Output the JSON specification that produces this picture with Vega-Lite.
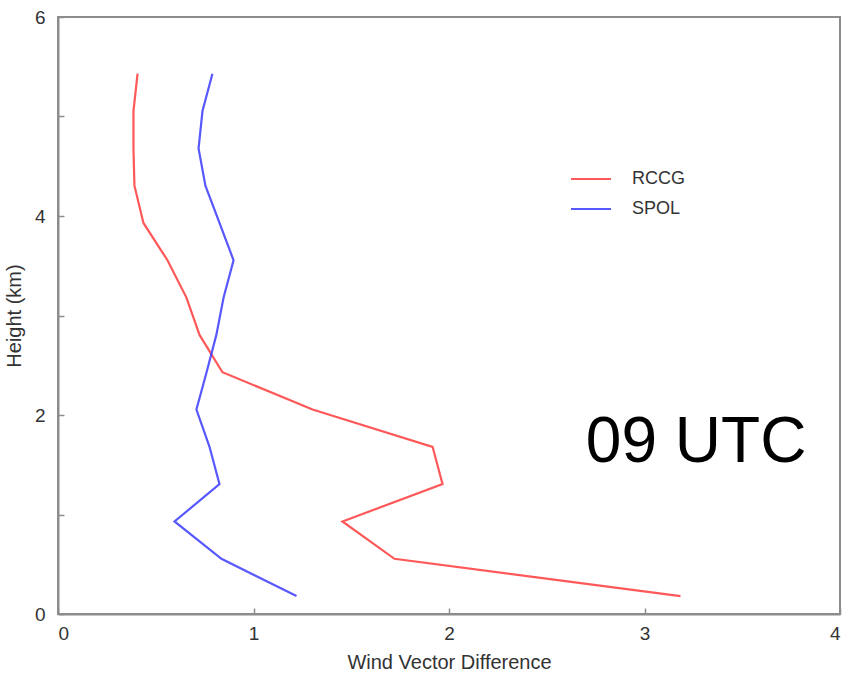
{
  "$schema": "https://vega.github.io/schema/vega-lite/v6.json",
  "width": 782,
  "height": 597,
  "autosize": {"type": "none"},
  "padding": {"left": 58, "top": 17, "right": 8, "bottom": 63},
  "background": "white",
  "config": {
    "font": "Liberation Sans",
    "view": {"stroke": "#8c8c8c", "strokeWidth": 2},
    "axis": {
      "grid": false,
      "domainColor": "#8c8c8c",
      "domainWidth": 2,
      "tickColor": "#8c8c8c",
      "tickWidth": 1.5,
      "tickSize": -6,
      "labelFont": "Liberation Sans",
      "labelFontSize": 19,
      "labelColor": "#333333",
      "titleFont": "Liberation Sans",
      "titleFontSize": 20,
      "titleFontWeight": "normal",
      "titleColor": "#333333"
    }
  },
  "datasets": {
    "profiles": [
      {"height": 0.18, "diff": 3.184, "radar": "RCCG"},
      {"height": 0.555, "diff": 1.721, "radar": "RCCG"},
      {"height": 0.93, "diff": 1.455, "radar": "RCCG"},
      {"height": 1.305, "diff": 1.967, "radar": "RCCG"},
      {"height": 1.68, "diff": 1.916, "radar": "RCCG"},
      {"height": 2.055, "diff": 1.302, "radar": "RCCG"},
      {"height": 2.43, "diff": 0.841, "radar": "RCCG"},
      {"height": 2.805, "diff": 0.724, "radar": "RCCG"},
      {"height": 3.18, "diff": 0.657, "radar": "RCCG"},
      {"height": 3.555, "diff": 0.56, "radar": "RCCG"},
      {"height": 3.93, "diff": 0.437, "radar": "RCCG"},
      {"height": 4.305, "diff": 0.391, "radar": "RCCG"},
      {"height": 4.68, "diff": 0.386, "radar": "RCCG"},
      {"height": 5.055, "diff": 0.386, "radar": "RCCG"},
      {"height": 5.43, "diff": 0.407, "radar": "RCCG"},
      {"height": 0.18, "diff": 1.22, "radar": "SPOL"},
      {"height": 0.555, "diff": 0.836, "radar": "SPOL"},
      {"height": 0.93, "diff": 0.596, "radar": "SPOL"},
      {"height": 1.305, "diff": 0.826, "radar": "SPOL"},
      {"height": 1.68, "diff": 0.775, "radar": "SPOL"},
      {"height": 2.055, "diff": 0.708, "radar": "SPOL"},
      {"height": 2.43, "diff": 0.76, "radar": "SPOL"},
      {"height": 2.805, "diff": 0.81, "radar": "SPOL"},
      {"height": 3.18, "diff": 0.847, "radar": "SPOL"},
      {"height": 3.555, "diff": 0.898, "radar": "SPOL"},
      {"height": 3.93, "diff": 0.826, "radar": "SPOL"},
      {"height": 4.305, "diff": 0.754, "radar": "SPOL"},
      {"height": 4.68, "diff": 0.719, "radar": "SPOL"},
      {"height": 5.055, "diff": 0.739, "radar": "SPOL"},
      {"height": 5.43, "diff": 0.79, "radar": "SPOL"}
    ],
    "note": [{"x": 2.7, "y": 1.53, "label": "09 UTC"}]
  },
  "layer": [
    {
      "data": {"name": "profiles"},
      "mark": {"type": "line", "strokeWidth": 2.2, "opacity": 0.85},
      "encoding": {
        "x": {
          "field": "diff", "type": "quantitative",
          "scale": {"domain": [0, 4], "nice": false, "zero": false},
          "axis": {
            "title": "Wind Vector Difference",
            "values": [0, 0.5, 1, 1.5, 2, 2.5, 3, 3.5, 4],
            "format": "d",
            "labelExpr": "datum.value % 1 == 0 ? datum.label : ''",
            "labelPadding": 16,
            "titlePadding": 9
          }
        },
        "y": {
          "field": "height", "type": "quantitative",
          "scale": {"domain": [0, 6], "nice": false, "zero": false},
          "axis": {
            "title": "Height (km)",
            "values": [0, 1, 2, 3, 4, 5, 6],
            "format": "d",
            "labelExpr": "datum.value % 2 == 0 ? datum.label : ''",
            "labelPadding": 19,
            "titlePadding": 10
          }
        },
        "order": {"field": "height", "type": "quantitative"},
        "color": {
          "field": "radar", "type": "nominal",
          "scale": {"domain": ["RCCG", "SPOL"], "range": ["#ff3b3b", "#3b3bff"]},
          "legend": {
            "title": null,
            "orient": "none",
            "legendX": 512,
            "legendY": 141,
            "symbolType": "stroke",
            "symbolSize": 1600,
            "symbolStrokeWidth": 2,
            "rowPadding": -12,
            "labelFont": "Liberation Sans",
            "labelFontSize": 18,
            "labelColor": "#333333",
            "labelOffset": 20
          }
        }
      }
    },
    {
      "data": {"name": "note"},
      "mark": {"type": "text", "font": "Liberation Sans", "fontSize": 64, "align": "left", "baseline": "alphabetic", "color": "black"},
      "encoding": {
        "x": {"field": "x", "type": "quantitative"},
        "y": {"field": "y", "type": "quantitative"},
        "text": {"field": "label"}
      }
    }
  ]
}
